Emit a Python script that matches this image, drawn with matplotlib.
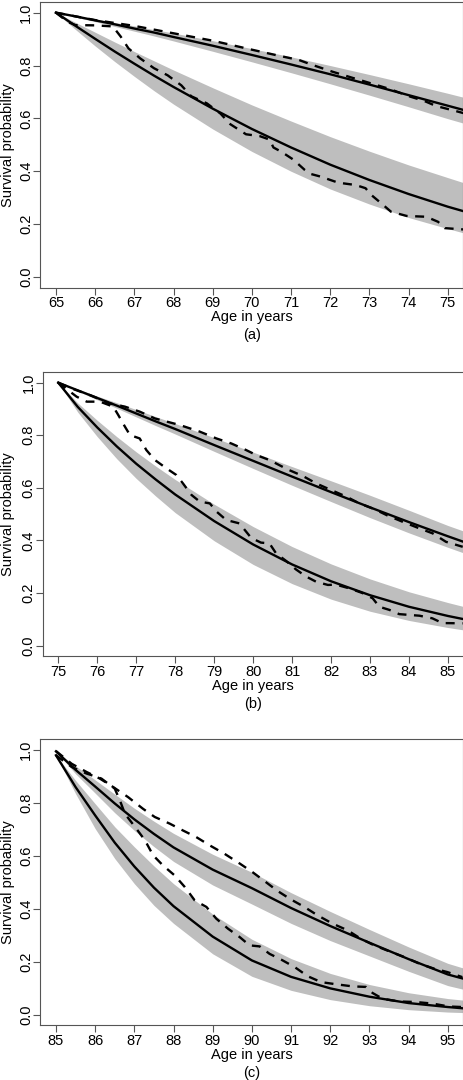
import matplotlib
matplotlib.use("Agg")
import matplotlib.pyplot as plt

plt.rcParams['font.family'] = ['Liberation Sans', 'DejaVu Sans']

# years since start of each panel (fitted curves and bands)
t_grid = [0, 0.5, 1, 1.5, 2, 2.5, 3, 4, 5, 6, 7, 8, 9, 10, 10.4]
start_ages = [65, 75, 85]
panel_tags = ['(a)', '(b)', '(c)']

# ---- panel (a) ----
a_fit_hi = [1.0, 0.986, 0.971, 0.956, 0.940, 0.925, 0.908, 0.875, 0.840, 0.804, 0.767, 0.728, 0.688, 0.648, 0.632]
a_band_hi_up = [1.0, 0.988, 0.976, 0.963, 0.950, 0.936, 0.923, 0.894, 0.864, 0.833, 0.800, 0.766, 0.731, 0.695, 0.680]
a_band_hi_lo = [1.0, 0.983, 0.966, 0.948, 0.930, 0.912, 0.893, 0.854, 0.814, 0.773, 0.731, 0.688, 0.644, 0.599, 0.582]
a_fit_lo = [1.0, 0.950, 0.901, 0.853, 0.807, 0.762, 0.719, 0.637, 0.560, 0.490, 0.425, 0.367, 0.314, 0.266, 0.249]
a_band_lo_up = [1.0, 0.963, 0.926, 0.889, 0.853, 0.818, 0.783, 0.716, 0.651, 0.590, 0.531, 0.476, 0.424, 0.376, 0.357]
a_band_lo_lo = [1.0, 0.936, 0.874, 0.815, 0.759, 0.705, 0.654, 0.560, 0.475, 0.400, 0.333, 0.276, 0.225, 0.183, 0.167]

a_km_hi_age = [65.0, 66.0, 67.0, 68.0, 69.0, 70.0, 70.6, 71.2, 71.55, 72.05, 72.6, 72.85, 73.5, 74.05, 74.4, 74.7, 75.2, 75.4]
a_km_hi = [1.0, 0.972, 0.95, 0.922, 0.894, 0.86, 0.84, 0.821, 0.802, 0.777, 0.752, 0.741, 0.712, 0.682, 0.666, 0.647, 0.628, 0.62]
a_km_lo_age = [65.0, 65.3, 65.5, 66.0, 66.45, 66.65, 66.85, 67.15, 67.5, 67.85, 68.2, 68.45, 68.85, 69.2, 69.45,
               69.85, 70.2, 70.45, 70.55, 70.75, 71.05, 71.35, 71.5, 71.75, 72.2, 72.65, 72.9, 73.05, 73.3, 73.55,
               73.95, 74.45, 74.75, 74.92, 75.4]
a_km_lo = [1.0, 0.965, 0.953, 0.952, 0.948, 0.91, 0.865, 0.827, 0.79, 0.763, 0.725, 0.684, 0.657, 0.618, 0.578,
           0.54, 0.533, 0.52, 0.49, 0.474, 0.445, 0.405, 0.39, 0.38, 0.357, 0.348, 0.336, 0.31, 0.279, 0.247,
           0.231, 0.228, 0.209, 0.185, 0.18]

# ---- panel (b) ----
b_fit_hi = [1.0, 0.971, 0.942, 0.913, 0.883, 0.853, 0.824, 0.763, 0.703, 0.643, 0.584, 0.526, 0.470, 0.416, 0.395]
b_band_hi_up = [1.0, 0.975, 0.949, 0.924, 0.898, 0.871, 0.845, 0.791, 0.736, 0.681, 0.627, 0.572, 0.515, 0.457, 0.436]
b_band_hi_lo = [1.0, 0.968, 0.935, 0.903, 0.870, 0.837, 0.805, 0.739, 0.674, 0.610, 0.548, 0.487, 0.429, 0.374, 0.353]
b_fit_lo = [1.0, 0.908, 0.830, 0.758, 0.692, 0.632, 0.575, 0.474, 0.385, 0.309, 0.245, 0.192, 0.148, 0.113, 0.101]
b_band_lo_up = [1.0, 0.923, 0.857, 0.795, 0.737, 0.683, 0.632, 0.538, 0.453, 0.377, 0.311, 0.254, 0.205, 0.164, 0.149]
b_band_lo_lo = [1.0, 0.888, 0.795, 0.711, 0.636, 0.569, 0.506, 0.399, 0.309, 0.236, 0.177, 0.131, 0.096, 0.069, 0.060]

b_km_hi_age = [75.0, 75.4, 75.81, 76.32, 76.71, 77.09, 77.48, 78.12, 78.63, 79.06, 79.44, 79.82, 80.08, 80.42,
               80.89, 81.28, 81.62, 82.0, 82.39, 82.73, 83.1, 83.45, 83.84, 84.27, 84.61, 84.95, 85.38]
b_km_hi = [1.0, 0.975, 0.953, 0.921, 0.909, 0.89, 0.864, 0.839, 0.814, 0.788, 0.769, 0.744, 0.725, 0.706,
           0.670, 0.645, 0.617, 0.592, 0.567, 0.541, 0.52, 0.495, 0.471, 0.446, 0.427, 0.395, 0.376]
b_km_lo_age = [75.0, 75.47, 75.73, 76.07, 76.41, 76.54, 76.71, 76.84, 77.09, 77.26, 77.48, 77.78, 78.03, 78.2,
               78.42, 78.63, 78.89, 79.06, 79.31, 79.65, 79.95, 80.2, 80.42, 80.59, 80.85, 81.1, 81.36, 81.62,
               81.92, 82.13, 82.47, 82.81, 83.07, 83.24, 83.5, 83.75, 84.27, 84.6, 84.86, 85.38]
b_km_lo = [1.0, 0.947, 0.928, 0.928, 0.909, 0.877, 0.833, 0.801, 0.788, 0.744, 0.706, 0.674, 0.649, 0.617,
           0.573, 0.548, 0.541, 0.51, 0.478, 0.465, 0.41, 0.392, 0.389, 0.351, 0.322, 0.29, 0.263, 0.243,
           0.231, 0.232, 0.218, 0.2, 0.18, 0.148, 0.136, 0.12, 0.114, 0.104, 0.086, 0.085]

# ---- panel (c) ----
c_fit_hi = [0.995, 0.925, 0.862, 0.798, 0.738, 0.683, 0.632, 0.548, 0.478, 0.403, 0.335, 0.272, 0.210, 0.152, 0.136]
c_band_hi_up = [0.995, 0.940, 0.887, 0.833, 0.780, 0.731, 0.685, 0.606, 0.538, 0.461, 0.390, 0.322, 0.256, 0.194, 0.176]
c_band_hi_lo = [0.995, 0.910, 0.837, 0.763, 0.696, 0.635, 0.579, 0.490, 0.418, 0.345, 0.280, 0.222, 0.164, 0.110, 0.096]
c_fit_lo = [0.98, 0.86, 0.753, 0.65, 0.56, 0.48, 0.41, 0.295, 0.205, 0.143, 0.0995, 0.068, 0.044, 0.029, 0.024]
c_band_lo_up = [0.98, 0.885, 0.797, 0.71, 0.634, 0.562, 0.495, 0.38, 0.285, 0.212, 0.156, 0.114, 0.083, 0.061, 0.055]
c_band_lo_lo = [0.98, 0.835, 0.703, 0.59, 0.495, 0.413, 0.345, 0.23, 0.145, 0.092, 0.057, 0.034, 0.019, 0.010, 0.008]

c_km_hi_age = [85.0, 85.4, 85.78, 86.12, 86.46, 86.84, 87.22, 87.52, 87.9, 88.24, 88.58, 88.92, 89.3, 89.69,
               90.03, 90.32, 90.66, 91.0, 91.34, 91.68, 92.06, 92.44, 92.78, 93.12, 93.55, 93.89, 94.27, 94.65,
               94.99, 95.37]
c_km_hi = [0.996, 0.948, 0.917, 0.892, 0.86, 0.822, 0.778, 0.747, 0.722, 0.696, 0.671, 0.64, 0.608, 0.571,
           0.537, 0.505, 0.467, 0.435, 0.407, 0.375, 0.344, 0.319, 0.287, 0.262, 0.237, 0.218, 0.193, 0.174,
           0.161, 0.142]
c_km_lo_age = [85.0, 85.4, 85.78, 86.16, 86.5, 86.63, 86.76, 87.05, 87.27, 87.48, 87.73, 88.03, 88.29, 88.54,
               88.84, 89.09, 89.39, 89.69, 89.94, 90.2, 90.45, 90.75, 91.09, 91.43, 91.77, 92.15, 92.57, 92.91,
               93.08, 93.34, 93.76, 94.18, 94.61, 95.03, 95.37]
c_km_lo = [0.98, 0.936, 0.911, 0.892, 0.854, 0.81, 0.759, 0.703, 0.659, 0.602, 0.564, 0.526, 0.482, 0.432,
           0.407, 0.363, 0.325, 0.293, 0.262, 0.258, 0.23, 0.208, 0.18, 0.145, 0.123, 0.115, 0.107, 0.105,
           0.082, 0.06, 0.05, 0.048, 0.042, 0.031, 0.029]

y_ticks = [0.0, 0.2, 0.4, 0.6, 0.8, 1.0]
y_tick_labels = ['0.0', '0.2', '0.4', '0.6', '0.8', '1.0']

W, H = 464, 1080
# axes boxes in pixels: left, top, right, bottom
boxes = [(40.3, 2.1, 463.5, 287.6), (42.7, 372.2, 463.5, 656.2), (40.3, 739.4, 463.5, 1025.3)]

panels = [
    (a_fit_hi, a_band_hi_up, a_band_hi_lo, a_fit_lo, a_band_lo_up, a_band_lo_lo,
     a_km_hi_age, a_km_hi, a_km_lo_age, a_km_lo),
    (b_fit_hi, b_band_hi_up, b_band_hi_lo, b_fit_lo, b_band_lo_up, b_band_lo_lo,
     b_km_hi_age, b_km_hi, b_km_lo_age, b_km_lo),
    (c_fit_hi, c_band_hi_up, c_band_hi_lo, c_fit_lo, c_band_lo_up, c_band_lo_lo,
     c_km_hi_age, c_km_hi, c_km_lo_age, c_km_lo),
]

band_col = '#bebebe'
frame_col = '#555555'
fs = 10.5

fig = plt.figure(figsize=(W / 100, H / 100), dpi=100)

for i, p in enumerate(panels):
    fit_hi, bhi_up, bhi_lo, fit_lo, blo_up, blo_lo, kh_age, kh, kl_age, kl = p
    start = start_ages[i]
    ages = [start + t for t in t_grid]
    l, t, r, b = boxes[i]
    ax = fig.add_axes([l / W, 1 - b / H, (r - l) / W, (b - t) / H])

    ax.fill_between(ages, bhi_lo, bhi_up, color=band_col, lw=0)
    ax.fill_between(ages, blo_lo, blo_up, color=band_col, lw=0)
    ax.plot(ages, fit_hi, color='black', lw=1.7)
    ax.plot(ages, fit_lo, color='black', lw=1.7)
    ax.plot(kh_age, kh, color='black', lw=1.7, ls=(0, (3.8, 3.2)))
    ax.plot(kl_age, kl, color='black', lw=1.7, ls=(0, (3.8, 3.2)))

    ax.set_xlim(start - 0.4, start + 10.4)
    ax.set_ylim(-0.04, 1.04)
    ax.set_xticks(range(start, start + 11))
    ax.set_xticklabels([str(v) for v in range(start, start + 11)], fontsize=fs)
    ax.set_yticks(y_ticks)
    ax.set_yticklabels(y_tick_labels, fontsize=fs, rotation=90, va='center', ha='center')
    ax.tick_params(direction='out', length=4.8, width=0.8, color=frame_col)
    ax.tick_params(axis='x', pad=1.5)
    ax.tick_params(axis='y', pad=5.3)
    for s in ax.spines.values():
        s.set_color(frame_col)
        s.set_linewidth(0.8)

    cx = (l + r) / 2
    fig.text(cx / W, 1 - (b + 29.4) / H, 'Age in years', fontsize=fs, ha='center', va='center')
    fig.text(cx / W, 1 - (b + 47.4) / H, panel_tags[i], fontsize=fs, ha='center', va='center')
    fig.text(8.3 / W, 1 - ((t + b) / 2) / H, 'Survival probability', fontsize=fs,
             rotation=90, ha='center', va='center')

fig.savefig('out.png', dpi=100)
